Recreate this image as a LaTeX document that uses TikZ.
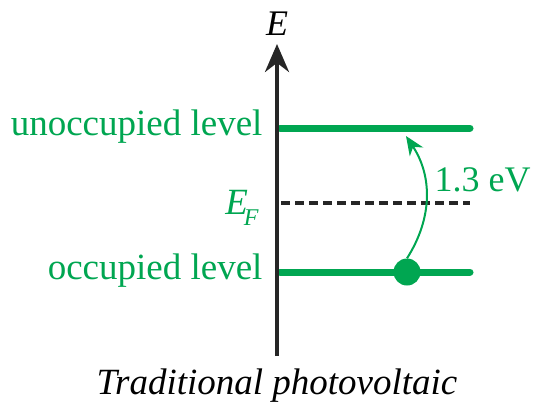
\documentclass[tikz,border=0pt]{standalone}
\usepackage{fontspec}
\setmainfont{Liberation Serif}
\usetikzlibrary{arrows.meta, positioning}
\definecolor{levelgreen}{RGB}{0,166,81}

\begin{document}
\begin{tikzpicture}[x=1pt, y=-1pt,
	level line/.style={levelgreen, line width=7pt, line cap=round},
	level label/.style={levelgreen, anchor=east, font=\fontsize{37}{42}\selectfont},
	axis arrow/.style={-{Stealth[length=28pt, width=24pt]}, line width=4pt, black!85},
	fermi line/.style={black!85, line width=3.2pt, dash pattern=on 9pt off 5pt},
	gap arrow/.style={-{Stealth[length=19pt, width=16pt, inset=6pt]}, levelgreen, line width=2pt},
	]
	
	% frame
	\useasboundingbox (0,0) rectangle (533,408);
	
	% energy axis
	\coordinate (axisbot) at (277,356);
	\coordinate (axistop) at (277,44);
	\node[font=\fontsize{36}{40}\selectfont\itshape] (elabel) at (277,24) {E};
	
	% levels
	\coordinate (upleft) at (280,128);
	\coordinate (upright) at (470,128);
	\coordinate (lowleft) at (280,272);
	\coordinate (lowright) at (470,272);
	\coordinate (fermileft) at (281,203);
	\coordinate (fermiright) at (470,203);
	\draw[level line] (upleft) -- (upright);
	\draw[level line] (lowleft) -- (lowright);
	\draw[fermi line] (fermileft) -- (fermiright);
	\draw[axis arrow] (axisbot) -- (axistop);
	
	% level labels
	\node[level label] (unocc) at (266,127) {unoccupied level};
	\node[level label] (occ) at (266,271) {occupied level};
	\node[levelgreen, font=\fontsize{37}{42}\selectfont\itshape] (fermi) at (242,208)
	{E\kern-4pt\raisebox{-11pt}{\fontsize{24}{28}\selectfont F}};
	
	% electron and excitation
	\node[circle, fill=levelgreen, minimum size=27pt, inner sep=0pt] (electron) at (407,272) {};
	\coordinate (target) at (406,136);
	\draw[gap arrow] (electron.north) to[bend right=33] (target);
	\node[levelgreen, anchor=west, font=\fontsize{36}{40}\selectfont] (gap) at (431,180) {1.3 eV};
	
	% caption
	\node[font=\fontsize{37}{42}\selectfont\itshape] (caption) at (277,386) {Traditional photovoltaic};
	
\end{tikzpicture}
\end{document}
